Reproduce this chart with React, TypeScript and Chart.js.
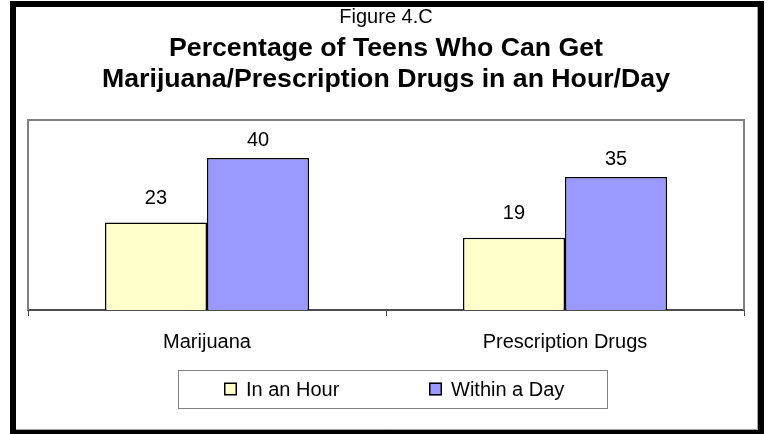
import { useEffect, useRef } from "react";
import { Chart, registerables } from "chart.js";

Chart.register(...registerables);

const categories = ["Marijuana", "Prescription Drugs"];
const seriesNames = ["In an Hour", "Within a Day"];
const inAnHour = [23, 19];
const withinADay = [40, 35];
const figureLabel = "Figure 4.C";
const titleLines = [
  "Percentage of Teens Who Can Get",
  "Marijuana/Prescription Drugs in an Hour/Day",
];
const yMax = 50;

const FONT = "'Liberation Sans', Arial, Helvetica, sans-serif";
const COLORS = ["#FFFFCC", "#9999FF"];
const LABEL_GAP = [19, 12];
const LEGEND_BOX = { left: 178, top: 370, right: 607, bottom: 408 };
const LEGEND_ITEM_X = [224, 429];

const decorPlugin = {
  id: "decor",
  beforeDatasetsDraw(chart: any) {
    const { ctx, chartArea: a } = chart;
    ctx.save();
    ctx.strokeStyle = "#808080";
    ctx.lineWidth = 2;
    ctx.beginPath();
    ctx.moveTo(a.left, a.bottom);
    ctx.lineTo(a.left, a.top);
    ctx.lineTo(a.right, a.top);
    ctx.lineTo(a.right, a.bottom);
    ctx.stroke();
    ctx.restore();
  },
  afterDraw(chart: any) {
    const { ctx } = chart;
    ctx.save();
    // value labels
    ctx.font = `20px ${FONT}`;
    ctx.fillStyle = "#000";
    ctx.textAlign = "center";
    ctx.textBaseline = "alphabetic";
    chart.data.datasets.forEach((ds: any, di: number) => {
      const meta = chart.getDatasetMeta(di);
      meta.data.forEach((el: any, i: number) => {
        ctx.fillText(String(ds.data[i]), el.x, el.y - LABEL_GAP[di]);
      });
    });
    // legend
    const lb = LEGEND_BOX;
    ctx.strokeStyle = "#808080";
    ctx.lineWidth = 1;
    ctx.strokeRect(lb.left + 0.5, lb.top + 0.5, lb.right - lb.left, lb.bottom - lb.top);
    const cy = (lb.top + lb.bottom) / 2;
    ctx.textAlign = "left";
    ctx.textBaseline = "middle";
    chart.data.datasets.forEach((ds: any, di: number) => {
      const x = LEGEND_ITEM_X[di];
      ctx.fillStyle = ds.backgroundColor;
      ctx.fillRect(x, cy - 6.5, 13, 13);
      ctx.strokeStyle = "#000";
      ctx.lineWidth = 1.5;
      ctx.strokeRect(x + 0.75, cy - 5.75, 11.5, 11.5);
      ctx.fillStyle = "#000";
      ctx.fillText(ds.label, x + 22, cy + 1);
    });
    // outer frame
    ctx.strokeStyle = "#a0a0a0";
    ctx.lineWidth = 1;
    ctx.beginPath();
    ctx.moveTo(16, 429.5);
    ctx.lineTo(757.5, 429.5);
    ctx.lineTo(757.5, 7);
    ctx.stroke();
    ctx.strokeStyle = "#000";
    ctx.lineWidth = 6;
    ctx.strokeRect(13, 4, 748, 429);
    ctx.restore();
  },
};

export default function App() {
  const canvasRef = useRef<HTMLCanvasElement | null>(null);

  useEffect(() => {
    if (!canvasRef.current) return;
    Chart.defaults.font.family = FONT;
    const chart = new Chart(canvasRef.current, {
      type: "bar",
      data: {
        labels: categories,
        datasets: [
          {
            label: seriesNames[0],
            data: inAnHour,
            backgroundColor: COLORS[0],
            borderColor: "#000",
            borderWidth: 1.5,
            categoryPercentage: 0.57,
            barPercentage: 1,
          },
          {
            label: seriesNames[1],
            data: withinADay,
            backgroundColor: COLORS[1],
            borderColor: "#000",
            borderWidth: 1.5,
            categoryPercentage: 0.57,
            barPercentage: 1,
          },
        ],
      },
      options: {
        responsive: false,
        animation: false,
        devicePixelRatio: 1,
        layout: { padding: { left: 28, right: 25, top: 0, bottom: 0 } },
        plugins: {
          title: {
            display: true,
            text: figureLabel,
            color: "#000",
            font: { family: FONT, size: 20, weight: "normal" },
            padding: { top: 5, bottom: 4.25 },
          },
          subtitle: {
            display: true,
            text: titleLines,
            color: "#000",
            font: { family: FONT, size: 26.7, weight: "bold", lineHeight: 1.161 },
            padding: { top: 0, bottom: 24.75 },
          },
          legend: { display: false },
          tooltip: { enabled: false },
        },
        scales: {
          x: {
            offset: true,
            grid: {
              display: true,
              offset: true,
              drawOnChartArea: false,
              drawTicks: true,
              tickLength: 6,
              color: "#4d4d4d",
              lineWidth: 1,
            },
            border: { display: true, color: "#4d4d4d", width: 2 },
            ticks: {
              color: "#000",
              font: { family: FONT, size: 20 },
              padding: 14,
              maxRotation: 0,
            },
            afterFit: (s: any) => {
              s.height = 124;
            },
          },
          y: {
            display: false,
            min: 0,
            max: yMax,
          },
        },
      },
      plugins: [decorPlugin],
    });
    return () => chart.destroy();
  }, []);

  return (
    <div style={{ position: "fixed", left: 0, top: 0, width: 769, height: 434, background: "#fff" }}>
      <canvas ref={canvasRef} width={769} height={434} style={{ display: "block" }} />
    </div>
  );
}
